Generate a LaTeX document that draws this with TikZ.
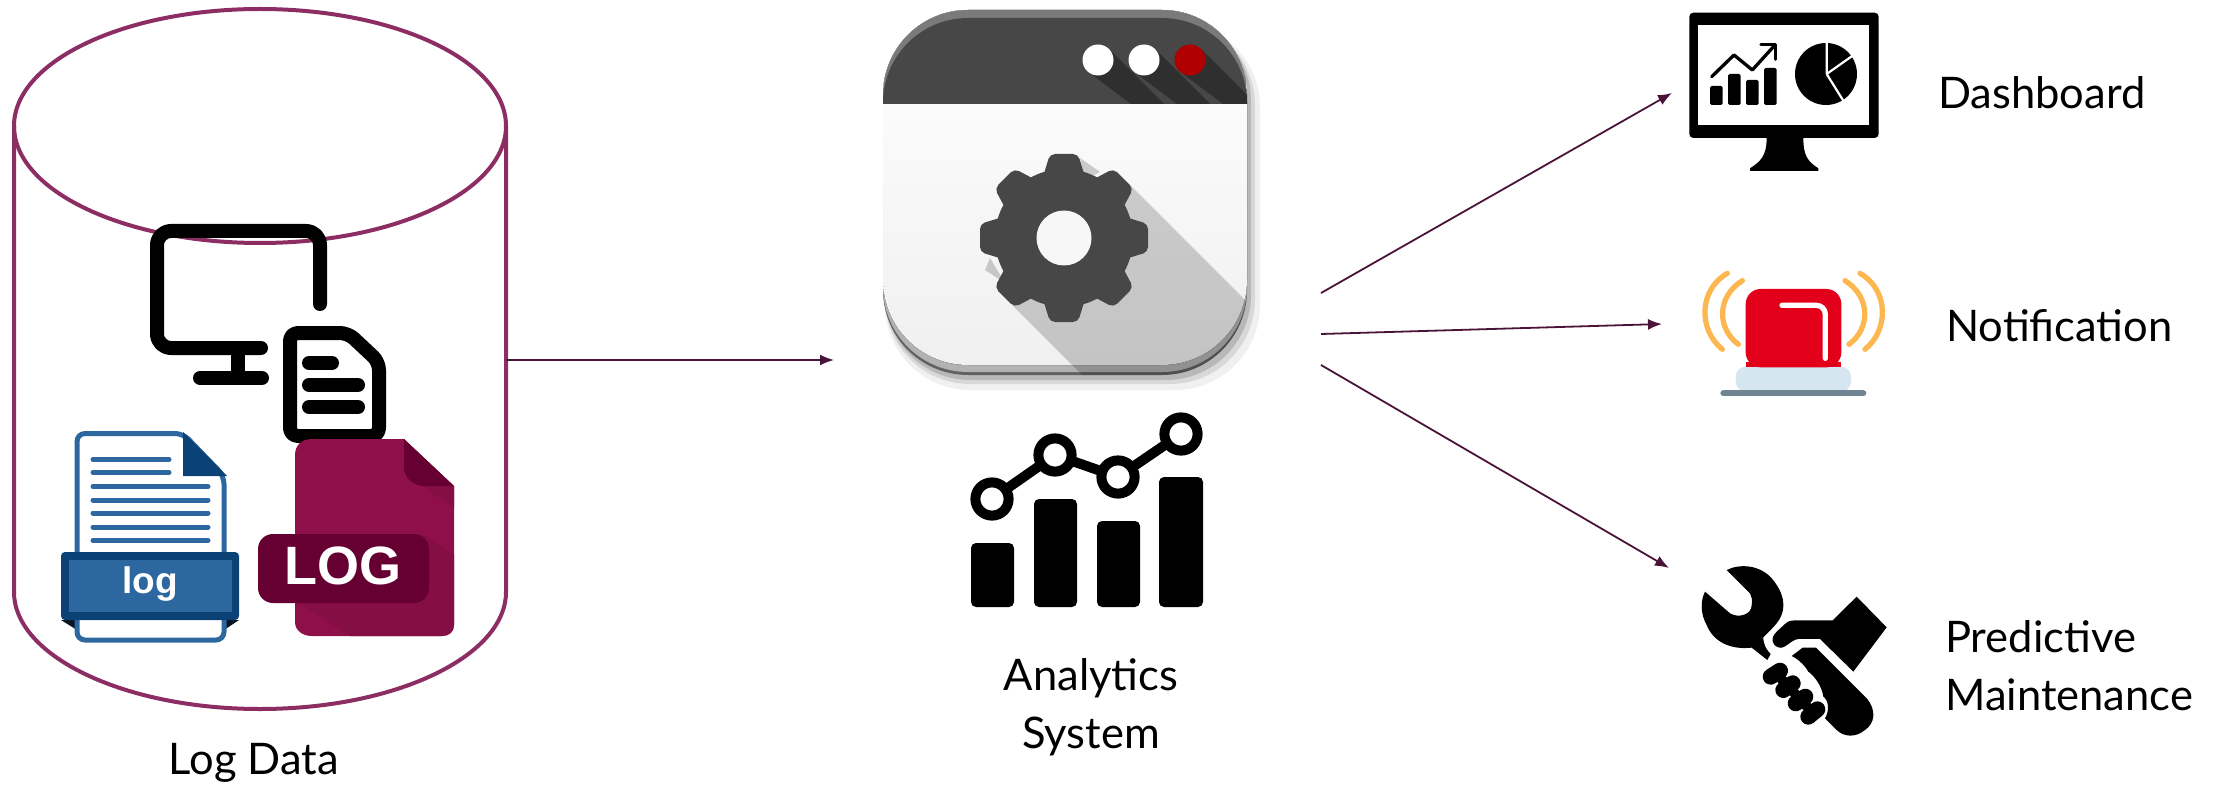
\documentclass[tikz,border=0pt]{standalone}
\usepackage{fontspec}
\setmainfont{Lato}
\newfontfamily\iconfont{Liberation Sans}
\usetikzlibrary{arrows.meta}
\definecolor{dbline}{HTML}{8C2D63}
\definecolor{flowline}{HTML}{4A1439}
\definecolor{logblue}{HTML}{2C67A0}
\definecolor{logdark}{HTML}{0A4275}
\definecolor{logred}{HTML}{8F0F4A}
\definecolor{logshade}{HTML}{850E44}
\definecolor{logwine}{HTML}{660033}
\definecolor{wintop}{HTML}{474747}
\definecolor{winedge}{HTML}{7A7A7A}
\definecolor{winband}{HTML}{2F2F2F}
\definecolor{btnred}{HTML}{B00000}
\definecolor{alarmred}{HTML}{E2001A}
\definecolor{alarmbase}{HTML}{D5E6F0}
\definecolor{alarmbar}{HTML}{6F8592}
\definecolor{alarmwave}{HTML}{FDB750}
\tikzset{
    flow/.style={flowline,line width=1.8pt,-{Latex[length=14pt,width=11pt]}},
    dbshape/.style={dbline,line width=4pt},
    iconline/.style={black,line width=14pt,line cap=round,line join=round,rounded corners=14pt},
    caption/.style={font=\fontsize{43.5}{58}\selectfont,align=left,inner sep=0pt},
    logrule/.style={logblue,line width=5pt,line cap=round},
    bar/.style={black,rounded corners=5pt},
    wave/.style={alarmwave,line width=5.3pt,line cap=round},
    winshape/.style={rounded corners=85pt}
}
\def\wintop{10}
\def\winleft{883}
\def\winright{1247}
\begin{document}
\begin{tikzpicture}[x=1pt,y=-1pt]
  \useasboundingbox (0,0) rectangle (2216,786);

  % Cylinder
  \draw[dbshape] (14,126) -- (14,592) .. controls (14,656) and (124,709) .. (260,709) .. controls (396,709) and (506,656) .. (506,592) -- (506,126);
  \draw[dbshape] (260,126) ellipse [x radius=246pt,y radius=117pt];

  % Monitor and file
  \draw[iconline] (320,304) -- (320,231) -- (157,231) -- (157,348) -- (261,348);
  \draw[iconline,line cap=butt] (238,348) -- (238,378);
  \draw[iconline] (200,378) -- (262,378);
  \draw[iconline,fill=white,rounded corners=8pt] (290,333) -- (348,333) -- (379,362) -- (379,436) -- (290,436) -- cycle;
  \draw[iconline] (309,363) -- (332,363);
  \draw[iconline] (309,385) -- (358,385);
  \draw[iconline] (309,407) -- (358,407);

  % Blue file
  \fill[black!80!logblue] (61,620) -- (77,630) -- (77,620) -- cycle (239,620) -- (224,630) -- (224,620) -- cycle;
  \draw[logblue,line width=5pt,fill=white,rounded corners=8pt] (77,560) -- (77,433.5) -- (183,433.5) -- (224,476) -- (224,640) -- (77,640) -- cycle;
  \fill[logdark] (183,432) -- (227,476) -- (183,476) -- cycle;
  \foreach \ly in {459.5,472.5} \draw[logrule] (93,\ly) -- (169,\ly);
  \foreach \ly in {486.5,500,513,527,540.5} \draw[logrule] (93,\ly) -- (208,\ly);
  \fill[logdark,rounded corners=4pt] (61,552) rectangle (239,620);
  \fill[logblue] (69,560) rectangle (232,612);
  \node[font=\iconfont\bfseries\fontsize{37}{37}\selectfont,white,inner sep=0pt] (logsmall) at (150,584) {log};

  % Red file
  \fill[logred] (295,455) .. controls (295,445) and (302,439) .. (312,439) -- (404,439) -- (454,486) -- (454,625) .. controls (454,632) and (449,636) .. (442,636) -- (312,636) .. controls (302,636) and (295,630) .. (295,622) -- cycle;
  \fill[logshade] (422,486) -- (454,486) -- (454,508) -- cycle;
  \fill[logshade] (300,603) -- (350,636) -- (442,636) .. controls (449,636) and (454,632) .. (454,625) -- (454,555) -- (424,535) -- cycle;
  \fill[logwine] (404,439) -- (454,486) -- (424,486) .. controls (412,486) and (404,476) .. (404,468) -- cycle;
  \fill[logwine,rounded corners=15pt] (258,534) rectangle (429,603);
  \node[font=\iconfont\bfseries\fontsize{54}{54}\selectfont,white,inner sep=0pt] (logbig) at (343,566) {LOG};

  % Window
  \fill[black,opacity=0.06,winshape] (885,22) rectangle (1260,390);
  \fill[black,opacity=0.1,winshape] (885,20) rectangle (1255,384);
  \fill[black,opacity=0.15,winshape] (885,16) rectangle (1251,380);
  \fill[black!62,winshape] (\winleft,\wintop) rectangle (\winright,375);
  \begin{scope}
    \clip[winshape] (\winleft,\wintop) rectangle (\winright,375);
    \fill[black!30,winshape] (\winleft,\wintop) rectangle (\winright,372);
    \fill[winshape,top color=white,middle color=white,bottom color=black!6] (\winleft,\wintop) rectangle (\winright,365);
    \fill[black,opacity=0.18] (1130,185) -- (1320,375) -- (1320,400) -- (1107,400) -- (1012,305) -- cycle;
    \fill[black,opacity=0.18] (1080,158) -- (1100,172) -- (1085,180) -- cycle (990,258) -- (1005,283) -- (985,270) -- cycle;
    \clip (\winleft,\wintop) rectangle (\winright,104);
    \fill[winedge] (\winleft,\wintop) rectangle (\winright,104);
    \fill[wintop,winshape] (\winleft,18) rectangle (\winright,300);
    \begin{scope}
      \clip[winshape] (\winleft,18) rectangle (\winright,300);
      \foreach \bx in {1098,1144,1190}
        \fill[winband] (\bx+11,49) -- (\bx+66,104) -- (\bx+33,104) -- (\bx-11,71) -- cycle;
    \end{scope}
  \end{scope}
  \foreach \bx/\bc in {1098/white,1144/white,1190/btnred}
    \fill[\bc] (\bx,60) circle (15.5pt);
  \fill[wintop] (1064,238) circle (69pt);
  \foreach \ga in {0,45,...,315}
    \fill[wintop,rounded corners=5pt,rotate around={\ga:(1064,238)}] (1042,180) -- (1050,154) -- (1078,154) -- (1086,180) -- cycle;
  \fill[black!3] (1064,238) circle (27.5pt);

  % Analytics chart
  \fill[bar] (971,543) rectangle (1014,607);
  \fill[bar] (1034,499) rectangle (1077,607);
  \fill[bar] (1097,521) rectangle (1140,607);
  \fill[bar] (1159,477) rectangle (1203,607);
  \draw[black,line width=10pt] (992,499) -- (1055,455) -- (1118,477) -- (1181,434);
  \foreach \cx/\cy in {992/499,1055/455,1118/477,1181/434}
    \draw[black,line width=10pt,fill=white] (\cx,\cy) circle (16.6pt);

  % Dashboard icon
  \begin{scope}[shift={(1660,0)},x=0.3333pt,y=-0.3333pt]
    \fill[black,rounded corners=4pt] (88,38) rectangle (656,414);
    \fill[white] (115,76) rectangle (628,374);
    \fill[black] (320,414) .. controls (320,470) and (300,485) .. (270,505) -- (270,513) -- (475,513) -- (475,505) .. controls (445,485) and (430,470) .. (430,414) -- cycle;
    \fill[black,rounded corners=1.5pt] (150,258) rectangle (188,315);
    \fill[black,rounded corners=1.5pt] (204,222) rectangle (242,315);
    \fill[black,rounded corners=1.5pt] (258,240) rectangle (296,315);
    \fill[black,rounded corners=1.5pt] (312,204) rectangle (350,315);
    \draw[black,line width=3.3pt,line cap=round,line join=round] (155,230) -- (222,165) -- (277,210) -- (345,135);
    \draw[black,line width=3.3pt,line cap=round,line join=round] (303,133) -- (347,133) -- (347,178);
    \fill[black] (498,222) circle (31pt);
    \draw[white,line width=2.2pt] (500,222) -- (500,120) (500,222) -- (595,155) (500,222) -- (556,312);
  \end{scope}

  % Alarm icon
  \begin{scope}[shift={(1680,250)},x=0.3333pt,y=-0.3333pt]
    \draw[wave] (142,70) .. controls (55,120) and (55,240) .. (127,298);
    \draw[wave] (187,92) .. controls (110,140) and (110,235) .. (175,283);
    \draw[wave] (495,92) .. controls (572,140) and (572,235) .. (507,283);
    \draw[wave] (540,70) .. controls (627,120) and (627,240) .. (555,298);
    \fill[alarmbase,rounded corners=10pt] (167,425) -- (167,350) -- (513,350) -- (513,425) -- cycle;
    \fill[alarmred,rounded corners=15pt] (197,352) -- (197,117) -- (484,117) -- (484,352) -- cycle;
    \fill[alarmred] (197,335) rectangle (484,350);
    \draw[white,line width=5.3pt,line cap=round,rounded corners=9pt] (306,166) -- (436,166) -- (436,325);
    \draw[alarmbar,line width=6pt,line cap=round] (130,430) -- (550,430);
  \end{scope}

  % Maintenance icon
  \begin{scope}[shift={(1680,550)},x=0.3333pt,y=-0.3333pt]
    \fill[black] (140,60) .. controls (180,40) and (240,45) .. (275,85) .. controls (310,125) and (320,170) .. (300,205) .. controls (285,230) and (270,240) .. (250,262) .. controls (250,285) and (260,300) .. (272,312) -- (262,330) -- (215,293) .. controls (150,300) and (100,275) .. (80,225) .. controls (60,190) and (62,150) .. (75,125) -- (150,190) .. controls (175,205) and (215,195) .. (215,165) .. controls (218,150) and (215,140) .. (210,130) -- cycle;
    \fill[black] (530,140) -- (620,232) -- (520,365) -- (420,267) -- (355,267) .. controls (330,270) and (315,300) .. (295,292) .. controls (275,285) and (270,265) .. (290,245) -- (315,222) .. controls (325,212) and (335,211) .. (345,211) -- (458,211) -- cycle;
    \fill[black] (335,318) -- (368,293) -- (408,293) -- (560,445) .. controls (590,480) and (585,520) .. (555,540) .. controls (525,565) and (490,560) .. (470,540) -- (435,505) .. controls (450,480) and (445,450) .. (430,440) .. controls (425,405) and (400,375) .. (385,365) .. controls (370,340) and (350,325) .. (335,318) -- cycle;
    \draw[black,line width=16pt,line cap=round] (272,380) -- (300,362) (310,420) -- (338,400) (347,460) -- (376,440) (385,500) -- (412,478);
    \draw[black,line width=10pt] (290,372) -- (395,485);
  \end{scope}

  % Labels
  \node[caption,anchor=center] (logdata) at (254,763) {Log Data};
  \node[caption,align=center,anchor=center] (analytics) at (1091,707) {Analytics\\System};
  \node[caption,anchor=west] (dashboard) at (1938,93) {Dashboard};
  \node[caption,anchor=west] (notification) at (1946,326) {Notification};
  \node[caption,anchor=west] (maintenance) at (1945,666) {Predictive\\Maintenance};

  % Connectors
  \coordinate (dbout) at (506,360);
  \coordinate (winin) at (834,360);
  \coordinate (outa) at (1321,293);
  \coordinate (outb) at (1321,334);
  \coordinate (outc) at (1321,365);
  \coordinate (dashin) at (1672,93);
  \coordinate (alarmin) at (1662,324);
  \coordinate (toolin) at (1669,568);
  \draw[flow] (dbout) -- (winin);
  \draw[flow] (outa) -- (dashin);
  \draw[flow] (outb) -- (alarmin);
  \draw[flow] (outc) -- (toolin);
\end{tikzpicture}
\end{document}
